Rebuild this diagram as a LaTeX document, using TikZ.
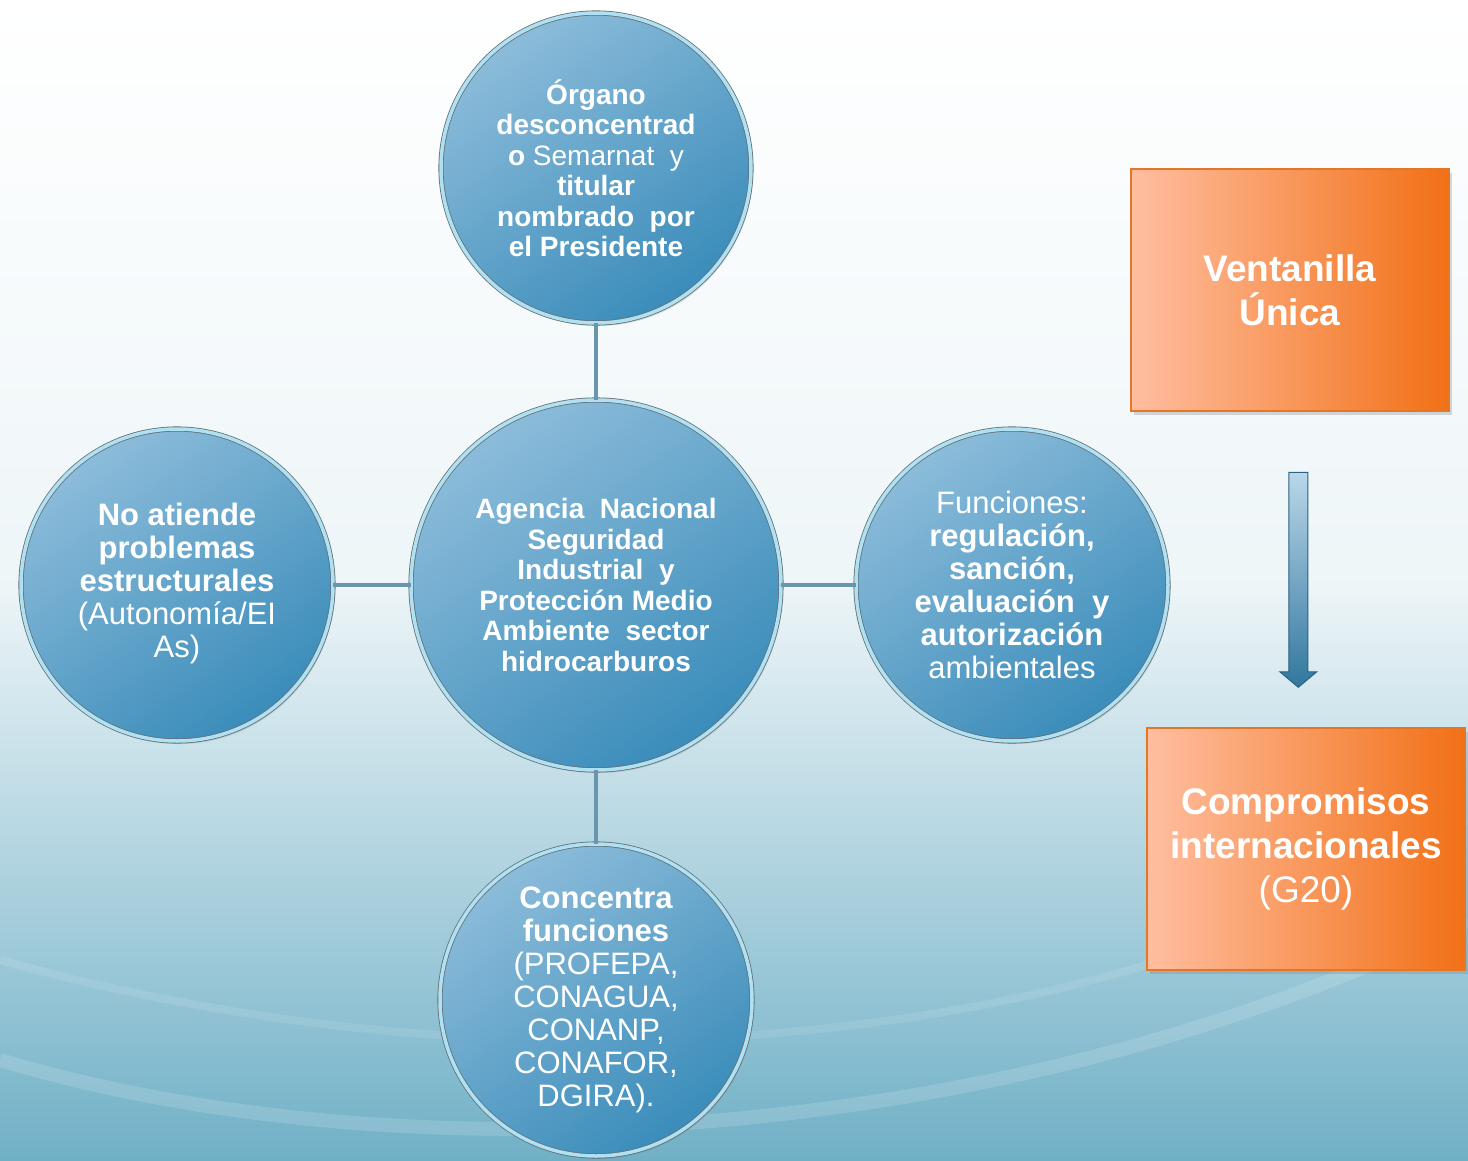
\documentclass[tikz,border=0pt]{standalone}
\usepackage{fontspec}
\setmainfont{Liberation Sans}
\usetikzlibrary{positioning}
\usetikzlibrary{calc}
\usetikzlibrary{shapes.arrows}
\usetikzlibrary{shadows}
\definecolor{circtop}{RGB}{140,188,218}
\definecolor{circbot}{RGB}{58,140,186}
\definecolor{ringcol}{RGB}{175,225,242}
\definecolor{linecol}{RGB}{105,150,172}
\definecolor{boxlight}{RGB}{255,190,160}
\definecolor{boxdark}{RGB}{242,112,22}
\definecolor{boxedge}{RGB}{228,118,40}
\definecolor{bgbot}{RGB}{112,176,198}
\tikzset{
  bubble/.style={circle, inner sep=0pt, text=white, align=center,
    top color=circtop, bottom color=circbot, shading angle=35,
    draw=gray!70!cyan!60!black, double=ringcol, double distance=3.5pt, line width=0.8pt,
    drop shadow={shadow xshift=2pt, shadow yshift=-3pt, opacity=0.25}},
  orangebox/.style={rectangle, inner sep=0pt, text=white, align=center,
    left color=boxlight, right color=boxdark, draw=boxedge, line width=2pt,
    minimum width=318pt, minimum height=242pt,
    font=\fontsize{37}{44}\selectfont\bfseries,
    drop shadow={shadow xshift=3pt, shadow yshift=-4pt, opacity=0.3}},
  link/.style={draw=linecol, line width=4pt}
}
\begin{document}
\begin{tikzpicture}[x=1pt, y=-1pt]
    \shade[top color=white, bottom color=bgbot, middle color=white!88!bgbot]
      (0,0) rectangle (1468,1161);
    \useasboundingbox (0,0) rectangle (1468,1161);
    \draw[white, opacity=0.14, line width=14pt]
      (0,1060) .. controls (400,1180) and (1000,1150) .. (1468,920);
    \draw[white, opacity=0.1, line width=8pt]
      (0,960) .. controls (500,1100) and (1100,1060) .. (1468,820);

    \node[bubble, minimum size=370pt] (anea) at (596,585) {};
    \node[font=\fontsize{28}{30.5}\selectfont\bfseries, text=white, align=center]
      at (anea) {Agencia\ \ Nacional\\Seguridad\\Industrial\ \ y\\Protección Medio\\Ambiente\ \ sector\\hidrocarburos};
    \node[bubble, minimum size=310pt] (organo) at (596,168) {};
    \node[font=\fontsize{28}{30.5}\selectfont, text=white, align=center]
      at (organo) {\bfseries Órgano\\\bfseries desconcentrad\\\textbf{o} Semarnat\ \ y\\\bfseries titular\\\bfseries nombrado\ \ por\\\bfseries el Presidente};
    \node[bubble, minimum size=312pt] (noatiende) at (177,585) {};
    \node[font=\fontsize{31}{33}\selectfont, text=white, align=center]
      at ([yshift=2pt]noatiende) {\bfseries No atiende\\\bfseries problemas\\\bfseries estructurales\\(Autonomía/EI\\As)};
    \node[bubble, minimum size=312pt] (funciones) at (1012,585) {};
    \node[font=\fontsize{31}{33}\selectfont, text=white, align=center]
      at (funciones) {Funciones:\\\bfseries regulación,\\\bfseries sanción,\\\bfseries evaluación\ \ y\\\bfseries autorización\\ambientales};
    \node[bubble, minimum size=312pt] (concentra) at (596,1000) {};
    \node[font=\fontsize{31}{33}\selectfont, text=white, align=center]
      at (concentra) {\bfseries Concentra\\\bfseries funciones\\(PROFEPA,\\CONAGUA,\\CONANP,\\CONAFOR,\\DGIRA).};

    \draw[link] (organo) -- (anea);
    \draw[link] (noatiende) -- (anea);
    \draw[link] (anea) -- (funciones);
    \draw[link] (anea) -- (concentra);

    \node[orangebox] (ventanilla) at (1290,290) {Ventanilla\\Única};
    \node[orangebox] (compromisos) at (1306,849)
      {Compromisos\\internacionales\\\mdseries(G20)};
    \node[single arrow, shape border rotate=270, minimum height=215pt,
      single arrow head extend=9pt, single arrow tip angle=100, inner sep=9pt,
      top color=circtop!60!white, bottom color=circbot!85!black,
      draw=circbot!70!black, line width=1pt]
      (pasa) at ($(ventanilla.south)!0.52!(compromisos.north)$) {};
\end{tikzpicture}
\end{document}
